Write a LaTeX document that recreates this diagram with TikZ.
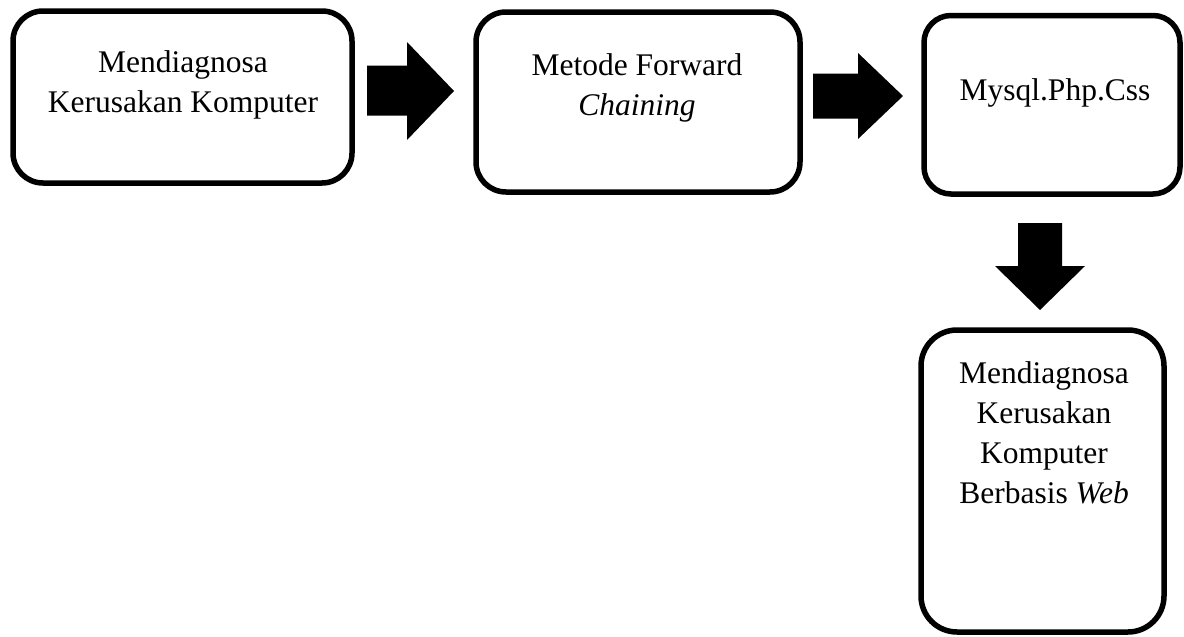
\documentclass[tikz,border=0pt]{standalone}
\usepackage{fontspec}
\setmainfont{Liberation Serif}
\begin{document}
\begin{tikzpicture}[x=1pt,y=-1pt,
  box/.style={draw=black,line width=5.5pt,rounded corners=30pt,fill=white,inner sep=0pt},
  label/.style={anchor=base,inner sep=0pt,font=\fontsize{31.5}{40}\selectfont},
  blockarrow/.style={fill=black}]
\useasboundingbox (0,0) rectangle (1184,637);

% rounded boxes (centre, size of stroke path)
\node[box,minimum width=339pt,minimum height=172pt] (b1) at (182.5,97) {};
\node[box,minimum width=324pt,minimum height=180pt] (b2) at (638,102) {};
\node[box,rounded corners=27pt,minimum width=256pt,minimum height=178.5pt] (b3) at (1052,104.75) {};
\node[box,rounded corners=36pt,minimum width=243pt,minimum height=302pt] (b4) at (1042.5,481) {};

% box texts
\node[label] (t1) at (183,72) {\begin{tabular}[t]{@{}c@{}}Mendiagnosa\\Kerusakan Komputer\end{tabular}};
\node[label] (t2) at (637,75) {\begin{tabular}[t]{@{}c@{}}Metode Forward\\\textit{Chaining}\end{tabular}};
\node[label] (t3) at (1055,100) {Mysql.Php.Css};
\node[label] (t4) at (1044,383) {\begin{tabular}[t]{@{}c@{}}Mendiagnosa\\Kerusakan\\Komputer\\Berbasis \textit{Web}\end{tabular}};

% block arrows between the boxes
\fill[blockarrow] (367,65.5) -- (407,65.5) -- (407,42) -- (454,91) -- (407,140) -- (407,115.5) -- (367,115.5) -- cycle;
\fill[blockarrow] (813,73.5) -- (858,73.5) -- (858,53) -- (903,96) -- (858,139) -- (858,118.5) -- (813,118.5) -- cycle;
\fill[blockarrow] (1018,223) -- (1062,223) -- (1062,266) -- (1085,266) -- (1040,310) -- (995,266) -- (1018,266) -- cycle;
\end{tikzpicture}
\end{document}
